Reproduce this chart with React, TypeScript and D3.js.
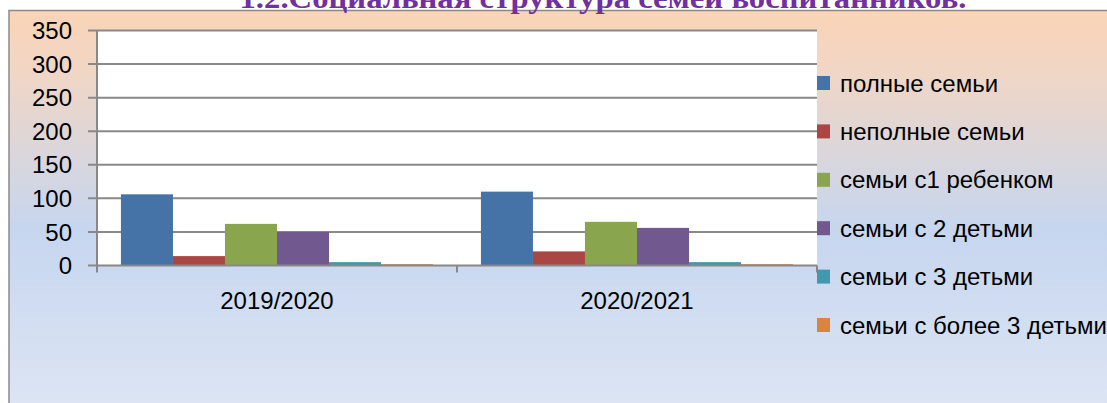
import React, { useEffect, useRef } from 'react';
import * as d3 from 'd3';

const categories = ['2019/2020', '2020/2021'];
const seriesNames = [
  'полные семьи',
  'неполные семьи',
  'семьи с1 ребенком',
  'семьи с 2 детьми',
  'семьи с 3 детьми',
  'семьи с более 3 детьми',
];
const seriesColors = ['#4572a7', '#aa4643', '#89a54e', '#71588f', '#4198af', '#db843d'];
// values per category, in series order
const values2019 = [106, 14, 62, 50, 5, 2];
const values2020 = [110, 21, 65, 56, 5, 2];
const yTicks = [0, 50, 100, 150, 200, 250, 300, 350];
const title = '1.2.Социальная структура семей воспитанников.';

function App() {
  const ref = useRef<SVGSVGElement>(null);

  useEffect(() => {
    const W = 1107, H = 403;
    const svg = d3.select(ref.current);
    svg.selectAll('*').remove();

    const plot = { left: 97, right: 817, top: 30.5, bottom: 265.5 };
    const font = '"Liberation Sans", Arial, sans-serif';
    const rows = [values2019, values2020];

    const defs = svg.append('defs');
    const grad = defs.append('linearGradient')
      .attr('id', 'bg').attr('x1', 0).attr('y1', 0).attr('x2', 0).attr('y2', 1);
    grad.append('stop').attr('offset', '0%').attr('stop-color', '#fad4b5');
    grad.append('stop').attr('offset', '15%').attr('stop-color', '#f0d6c6');
    grad.append('stop').attr('offset', '52%').attr('stop-color', '#c6d6ef');
    grad.append('stop').attr('offset', '100%').attr('stop-color', '#e0e7f4');

    svg.append('rect').attr('width', W).attr('height', H).attr('fill', '#fff');

    // chart area
    svg.append('rect')
      .attr('x', 9).attr('y', 10.5)
      .attr('width', W + 20).attr('height', H + 20)
      .attr('fill', 'url(#bg)')
      .attr('stroke', '#8a8a8a').attr('stroke-width', 1.5);

    // title, clipped at the top of the page
    svg.append('text')
      .attr('x', 603).attr('y', 8)
      .attr('text-anchor', 'middle')
      .attr('font-family', '"Liberation Serif", "Times New Roman", serif')
      .attr('font-weight', 'bold')
      .attr('font-size', 30)
      .attr('fill', '#7030a0')
      .attr('textLength', 727)
      .attr('lengthAdjust', 'spacingAndGlyphs')
      .text(title);

    svg.append('rect')
      .attr('x', plot.left).attr('y', plot.top)
      .attr('width', plot.right - plot.left).attr('height', plot.bottom - plot.top)
      .attr('fill', '#fff');

    const y = d3.scaleLinear().domain([0, 350]).range([plot.bottom, plot.top]);
    const x0 = d3.scaleBand<string>().domain(categories).range([plot.left, plot.right]);
    const x1 = d3.scaleBand<string>().domain(seriesNames)
      .range([0, x0.bandwidth()]).paddingInner(0).paddingOuter(0.46);

    // gridlines
    svg.append('g').selectAll('line').data(yTicks.filter(t => t > 0)).join('line')
      .attr('x1', plot.left - 9).attr('x2', plot.right)
      .attr('y1', d => y(d)).attr('y2', d => y(d))
      .attr('stroke', '#888').attr('stroke-width', 2);

    // bars
    const groups = svg.append('g').selectAll('g').data(categories).join('g')
      .attr('transform', d => `translate(${x0(d)},0)`);
    groups.selectAll('rect')
      .data((c, i) => rows[i].map((v, j) => ({ name: seriesNames[j], v, color: seriesColors[j] })))
      .join('rect')
      .attr('x', d => x1(d.name)!)
      .attr('y', d => y(d.v))
      .attr('width', x1.bandwidth())
      .attr('height', d => y(0) - y(d.v))
      .attr('fill', d => d.color);

    // axes
    svg.append('line')
      .attr('x1', plot.left).attr('x2', plot.left)
      .attr('y1', plot.top).attr('y2', plot.bottom + 6)
      .attr('stroke', '#888').attr('stroke-width', 2);
    svg.append('line')
      .attr('x1', plot.left - 9).attr('x2', plot.right)
      .attr('y1', y(0)).attr('y2', y(0))
      .attr('stroke', '#888').attr('stroke-width', 2);
    const catEdges = [...categories.map(c => x0(c)!), plot.right];
    svg.append('g').selectAll('line').data(catEdges).join('line')
      .attr('x1', d => d).attr('x2', d => d)
      .attr('y1', y(0)).attr('y2', y(0) + 7)
      .attr('stroke', '#888').attr('stroke-width', 2);

    // y labels
    svg.append('g').selectAll('text').data(yTicks).join('text')
      .attr('x', 72).attr('y', d => y(d))
      .attr('dy', '0.36em')
      .attr('text-anchor', 'end')
      .attr('font-family', font).attr('font-size', 24).attr('fill', '#000')
      .text(d => d);

    // category labels
    svg.append('g').selectAll('text').data(categories).join('text')
      .attr('x', d => x0(d)! + x0.bandwidth() / 2).attr('y', 300)
      .attr('dy', '0.36em')
      .attr('text-anchor', 'middle')
      .attr('font-family', font).attr('font-size', 24).attr('fill', '#000')
      .text(d => d);

    // legend
    const legend = svg.append('g').selectAll('g').data(seriesNames).join('g')
      .attr('transform', (d, i) => `translate(817,${83 + i * 48.4})`);
    legend.append('rect')
      .attr('x', 0).attr('y', -7).attr('width', 13).attr('height', 14)
      .attr('fill', (d, i) => seriesColors[i]);
    legend.append('text')
      .attr('x', 23).attr('y', 0).attr('dy', '0.36em')
      .attr('font-family', font).attr('font-size', 24).attr('fill', '#000')
      .text(d => d);
  }, []);

  return (
    <svg ref={ref} width={1107} height={403}
      style={{ position: 'absolute', left: 0, top: 0, display: 'block' }} />
  );
}

export default App;
